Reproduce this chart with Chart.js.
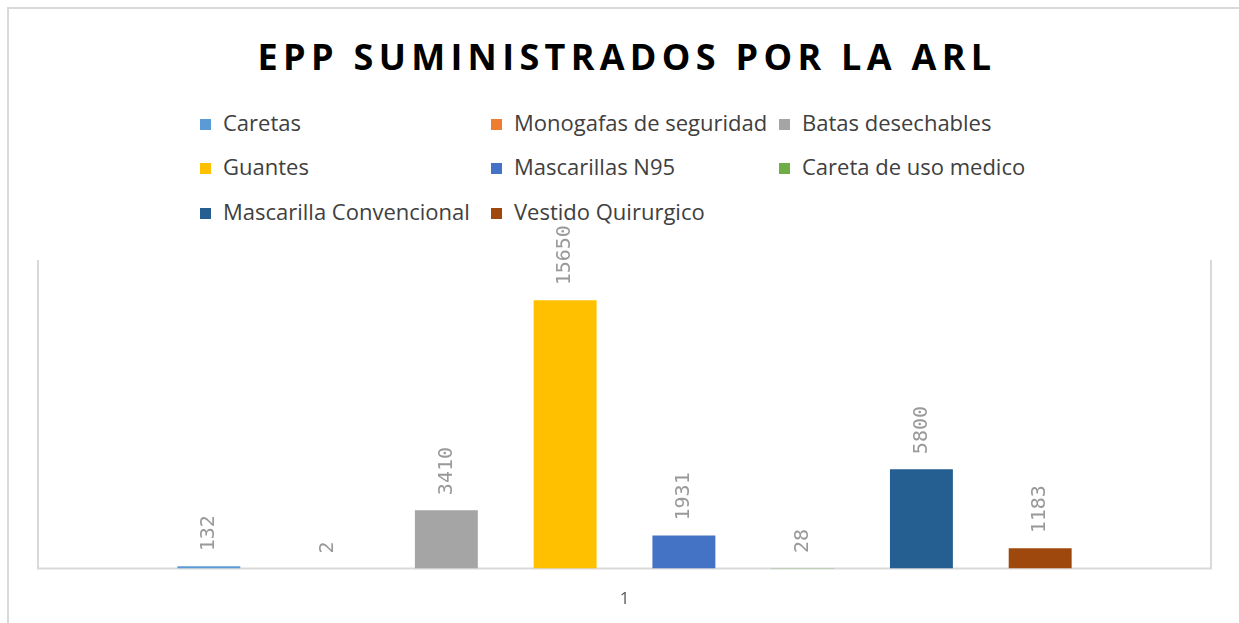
<!DOCTYPE html>
<html lang="es">
<head>
  <meta charset="UTF-8">
  <title>EPP suministrados por la ARL</title>
  <script src="https://cdn.jsdelivr.net/npm/chart.js"></script>
  <style>
    html, body { margin: 0; padding: 0; background: #fff; overflow: hidden; }
    #wrap { position: relative; width: 1239px; height: 623px; overflow: hidden; }
    #frame {
      position: absolute; left: 7px; top: 7px; width: 1250px; height: 640px;
      border: 2px solid #d9d9d9; box-sizing: border-box;
    }
    #titulo {
      position: absolute; left: 0; top: 33px; width: 1254px; text-align: center;
      font: bold 36px "Open Sans", sans-serif; letter-spacing: 5.3px; color: #000;
      margin: 0; line-height: 48px;
    }
    #leyenda { position: absolute; left: 0; top: 0; }
    .item {
      position: absolute; font: 22px "Open Sans", sans-serif; color: #404040;
      white-space: nowrap; line-height: 28px;
    }
    .item span.caja {
      display: inline-block; width: 11px; height: 11px; margin-right: 12px;
      vertical-align: 1px;
    }
    #lienzo { position: absolute; left: 0; top: 0; }
  </style>
</head>
<body>
  <div id="wrap">
    <div id="frame"></div>
    <h1 id="titulo">EPP SUMINISTRADOS POR LA ARL</h1>
    <div id="leyenda"></div>
    <canvas id="lienzo" width="1239" height="644"></canvas>
  </div>

  <script>
    // datos
    const categorias = ['1'];
    const series = ['Caretas', 'Monogafas de seguridad', 'Batas desechables', 'Guantes',
      'Mascarillas N95', 'Careta de uso medico', 'Mascarilla Convencional', 'Vestido Quirurgico'];
    const valores = [132, 2, 3410, 15650, 1931, 28, 5800, 1183];
    const colores = ['#5b9bd5', '#ed7d31', '#a5a5a5', '#ffc000', '#4472c4', '#70ad47', '#255e91', '#9e480e'];

    // leyenda en 3 columnas
    const colX = [200, 491, 779];
    const filaY = [108, 152, 197];
    const leyenda = document.getElementById('leyenda');
    series.forEach((nombre, i) => {
      const div = document.createElement('div');
      div.className = 'item';
      div.style.left = colX[i % 3] + 'px';
      div.style.top = filaY[Math.floor(i / 3)] + 'px';
      div.innerHTML = '<span class="caja" style="background:' + colores[i] + '"></span>' + nombre;
      leyenda.appendChild(div);
    });

    // bordes del area de trazado (izq, der, abajo)
    const bordes = {
      id: 'bordes',
      beforeDatasetsDraw(chart) {
        const a = chart.chartArea;
        const ctx = chart.ctx;
        ctx.save();
        ctx.strokeStyle = '#d9d9d9';
        ctx.lineWidth = 2;
        ctx.beginPath();
        ctx.moveTo(a.left, a.top);
        ctx.lineTo(a.left, a.bottom);
        ctx.lineTo(a.right, a.bottom);
        ctx.lineTo(a.right, a.top);
        ctx.stroke();
        ctx.restore();
      }
    };

    // etiquetas de valor giradas
    const etiquetas = {
      id: 'etiquetas',
      afterDatasetsDraw(chart) {
        const ctx = chart.ctx;
        ctx.save();
        ctx.font = '20px "DejaVu Sans Mono", monospace';
        ctx.fillStyle = '#999999';
        ctx.textAlign = 'left';
        ctx.textBaseline = 'middle';
        chart.data.datasets.forEach((ds, i) => {
          const bar = chart.getDatasetMeta(i).data[0];
          ctx.save();
          ctx.translate(bar.x, bar.y - 15);
          ctx.rotate(-Math.PI / 2);
          ctx.fillText(String(ds.data[0]), 0, 0);
          ctx.restore();
        });
        ctx.restore();
      }
    };

    new Chart(document.getElementById('lienzo'), {
      type: 'bar',
      data: {
        labels: categorias,
        datasets: series.map((nombre, i) => ({
          label: nombre,
          data: [valores[i]],
          backgroundColor: colores[i],
          borderWidth: 0
        }))
      },
      options: {
        responsive: false,
        animation: false,
        categoryPercentage: 0.81,
        barPercentage: 0.53,
        layout: { padding: { top: 260, left: 38, right: 28, bottom: 15 } },
        plugins: {
          legend: { display: false },
          title: { display: false },
          tooltip: { enabled: false }
        },
        scales: {
          x: {
            grid: { display: false, drawTicks: false },
            border: { display: false },
            ticks: { color: '#595959', font: { family: 'Open Sans', size: 17 }, padding: 20 }
          },
          y: { display: false, min: 0, max: 18000 }
        }
      },
      plugins: [bordes, etiquetas]
    });
  </script>
</body>
</html>
